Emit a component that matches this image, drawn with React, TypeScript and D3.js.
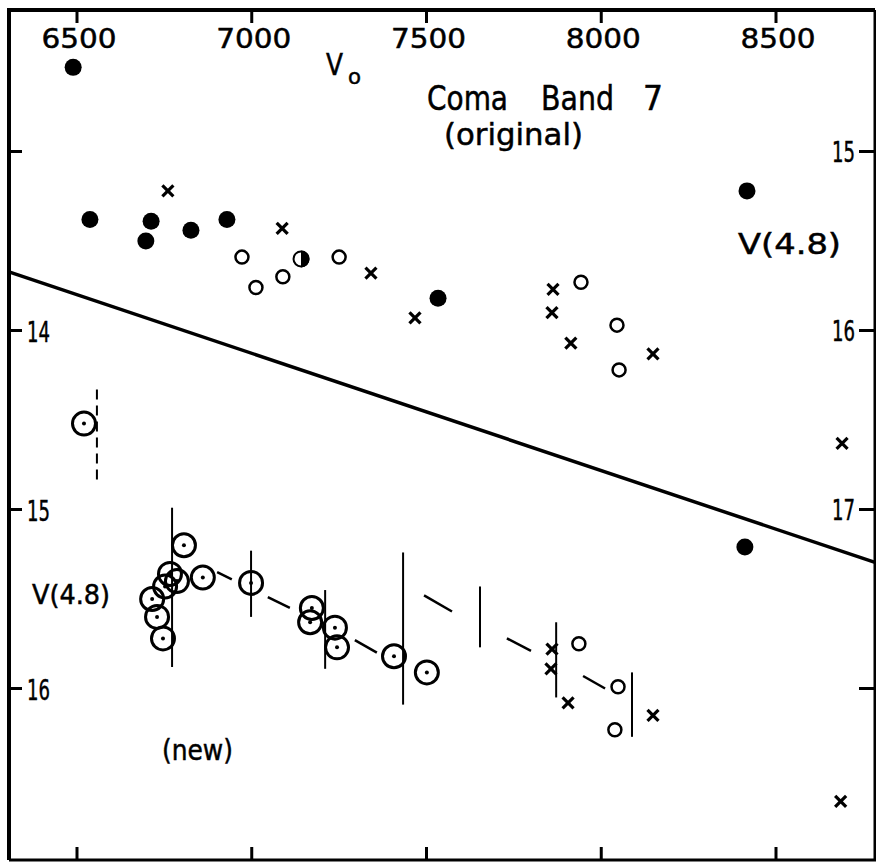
import React from "react";
import * as d3 from "d3";

// Velocity ticks (top and bottom) and magnitude ticks (left: new, right: original)
const velocityTicks = [6500, 7000, 7500, 8000, 8500];
const leftTicks = [13, 14, 15, 16];
const leftTickLabels = ["", "14", "15", "16"];
const rightTicks = [15, 16, 17, 18];
const rightTickLabels = ["15", "16", "17", ""];

// Original photometry, read on the right-hand V(4.8) scale: [V0, mag]
const originalFilled: [number, number][] = [
  [6489, 14.53], [6537, 15.38], [6712, 15.39], [6697, 15.5],
  [6826, 15.44], [6929, 15.38], [7533, 15.82], [8417, 15.22],
];
const originalHalf: [number, number][] = [[7141, 15.6]];
const originalOpen: [number, number][] = [
  [6972, 15.59], [7012, 15.76], [7089, 15.7], [7250, 15.59],
  [7942, 15.73], [8045, 15.97], [8051, 16.22],
];
const originalCross: [number, number][] = [
  [6760, 15.22], [7087, 15.43], [7341, 15.68], [7467, 15.93],
  [7862, 15.77], [7859, 15.9], [7913, 16.07], [8148, 16.13], [8689, 16.63],
];

// Regression of the original magnitudes on V0: [V0, mag] endpoints
const fitLine: [number, number][] = [[6500, 15.8], [8500, 17.11]];

// New photometry, read on the left-hand V(4.8) scale: [V0, mag]
const newCircled: [number, number][] = [
  [6806, 15.2], [6860, 15.38], [6998, 15.41], [6766, 15.36], [6786, 15.4],
  [6752, 15.43], [6715, 15.5], [6729, 15.6], [6746, 15.72], [7172, 15.55],
  [7167, 15.63], [7238, 15.66], [7244, 15.77], [7407, 15.82], [7501, 15.91],
];
const newCircledUncertain: [number, number][] = [[6520, 14.52]];
const newOpen: [number, number][] = [[7936, 15.75], [8048, 15.99], [8039, 16.23]];
const newCross: [number, number][] = [
  [7859, 15.78], [7856, 15.89], [7905, 16.08], [8148, 16.15], [8685, 16.63],
];
const newFilled: [number, number][] = [[8411, 15.21]];

// Ranges of the new measurements: [V0, faint, bright]
const errorBars: [number, number, number][] = [
  [6772, 15.88, 14.99], [6998, 15.6, 15.23], [7210, 15.89, 15.45],
  [7433, 16.09, 15.24], [7653, 15.77, 15.43], [7871, 16.05, 15.63],
  [8088, 16.27, 15.91],
];
const dashedBars: [number, number, number][] = [[6557, 14.86, 14.33]];

// Running-mean trace of the new magnitudes: [V0a, maga, V0b, magb]
const trendSegments: [number, number, number, number][] = [
  [6901, 15.35, 6943, 15.39], [7046, 15.49, 7109, 15.55],
  [7295, 15.73, 7358, 15.8], [7493, 15.48, 7573, 15.57],
  [7730, 15.72, 7799, 15.79], [7948, 15.93, 8011, 16.0],
];

const W = 876;
const H = 864;
const FONT = "DejaVu Sans, sans-serif";

export default function App() {
  const left = 9, right = 875, top = 10, bottom = 860;
  const x = d3.scaleLinear().domain([6500, 8500]).range([77, 776]);
  const yL = d3.scaleLinear().domain([13, 16]).range([151.5, 688.5]);
  const yR = d3.scaleLinear().domain([15, 18]).range([151.5, 688.5]);

  const fit = d3.scaleLinear().domain(fitLine.map((d) => d[0])).range(fitLine.map((d) => d[1]));
  const fitPath = d3.line<number>()
    .x((v) => x(v))
    .y((v) => yR(fit(v)))([x.invert(left), x.invert(right)]);

  const halfArc = d3.arc()({ innerRadius: 0, outerRadius: 8.5, startAngle: 0, endAngle: Math.PI }) as string;

  const cross = (cx: number, cy: number, key: string) => (
    <g key={key} stroke="#000" strokeWidth={3.2}>
      <line x1={cx - 5.5} y1={cy - 5.5} x2={cx + 5.5} y2={cy + 5.5} />
      <line x1={cx - 5.5} y1={cy + 5.5} x2={cx + 5.5} y2={cy - 5.5} />
    </g>
  );

  const circled = (cx: number, cy: number, key: string) => (
    <g key={key}>
      <circle cx={cx} cy={cy} r={11.5} fill="none" stroke="#000" strokeWidth={3} />
      <circle cx={cx} cy={cy} r={2} fill="#000" />
    </g>
  );

  const txt = (s: string, tx: number, ty: number, size: number, len: number, anchor = "start", key?: string) => (
    <text key={key ?? s + tx + ty} x={tx} y={ty} fontFamily={FONT} fontSize={size}
      textAnchor={anchor} textLength={len} lengthAdjust="spacingAndGlyphs"
      fill="#000" stroke="#000" strokeWidth={0.5}>{s}</text>
  );

  return (
    <svg width={W} height={H} style={{ position: "absolute", left: 0, top: 0, background: "#fff" }}>
      <rect x={0} y={0} width={W} height={H} fill="#fff" />
      {/* frame */}
      <path d={`M${left},${bottom} L${left},${top} L${right},${top}`} fill="none" stroke="#000" strokeWidth={4} />
      <path d={`M${left},${bottom} L${right},${bottom} L${right},${top}`} fill="none" stroke="#000" strokeWidth={3} />

      {/* velocity ticks */}
      {velocityTicks.map((v) => (
        <g key={"vt" + v} stroke="#000" strokeWidth={3}>
          <line x1={x(v)} x2={x(v)} y1={top} y2={top + 13} />
          <line x1={x(v)} x2={x(v)} y1={bottom} y2={bottom - 13} />
        </g>
      ))}
      {velocityTicks.map((v) => txt(String(v), x(v) + 2, 48, 27, 75, "middle", "vl" + v))}

      {/* magnitude ticks */}
      {leftTicks.map((m, i) => (
        <g key={"lt" + m}>
          <line x1={left} x2={left + 13} y1={yL(m)} y2={yL(m)} stroke="#000" strokeWidth={3} />
          {leftTickLabels[i] && txt(leftTickLabels[i], 27, yL(m) + 11, 28, 23, "start", "ll" + m)}
        </g>
      ))}
      {rightTicks.map((m, i) => (
        <g key={"rt" + m}>
          <line x1={right} x2={right - 16} y1={yR(m)} y2={yR(m)} stroke="#000" strokeWidth={3} />
          {rightTickLabels[i] && txt(rightTickLabels[i], 855, yR(m) + 10, 28, 23, "end", "rl" + m)}
        </g>
      ))}

      {/* regression line */}
      <path d={fitPath ?? ""} fill="none" stroke="#000" strokeWidth={3.5} />

      {/* original data */}
      {originalFilled.map(([v, m], i) => (
        <circle key={"of" + i} cx={x(v)} cy={yR(m)} r={8.5} fill="#000" />
      ))}
      {originalHalf.map(([v, m], i) => (
        <g key={"oh" + i} transform={`translate(${x(v)},${yR(m)})`}>
          <path d={halfArc} fill="#000" />
          <circle r={7.5} fill="none" stroke="#000" strokeWidth={2} />
        </g>
      ))}
      {originalOpen.map(([v, m], i) => (
        <circle key={"oo" + i} cx={x(v)} cy={yR(m)} r={6.5} fill="none" stroke="#000" strokeWidth={2.5} />
      ))}
      {originalCross.map(([v, m], i) => cross(x(v), yR(m), "oc" + i))}

      {/* new data: ranges and trend */}
      {errorBars.map(([v, lo, hi], i) => (
        <line key={"eb" + i} x1={x(v)} x2={x(v)} y1={yL(lo)} y2={yL(hi)} stroke="#000" strokeWidth={2} />
      ))}
      {dashedBars.map(([v, lo, hi], i) => (
        <line key={"db" + i} x1={x(v)} x2={x(v)} y1={yL(hi)} y2={yL(lo)} stroke="#000" strokeWidth={2} strokeDasharray="10,6" />
      ))}
      {trendSegments.map(([va, ma, vb, mb], i) => (
        <line key={"ts" + i} x1={x(va)} y1={yL(ma)} x2={x(vb)} y2={yL(mb)} stroke="#000" strokeWidth={2.5} />
      ))}
      {newCircled.map(([v, m], i) => circled(x(v), yL(m), "nc" + i))}
      {newCircledUncertain.map(([v, m], i) => circled(x(v), yL(m), "nu" + i))}
      {newOpen.map(([v, m], i) => (
        <circle key={"no" + i} cx={x(v)} cy={yL(m)} r={6.5} fill="none" stroke="#000" strokeWidth={2.5} />
      ))}
      {newCross.map(([v, m], i) => cross(x(v), yL(m), "nx" + i))}
      {newFilled.map(([v, m], i) => (
        <circle key={"nf" + i} cx={x(v)} cy={yL(m)} r={8.5} fill="#000" />
      ))}

      {/* labels */}
      {txt("V", 326, 75, 30, 17, "start", "v0")}
      {txt("o", 348, 84, 21, 13, "start", "v0s")}
      {txt("Coma", 427, 110, 33, 81, "start", "coma")}
      {txt("Band", 541, 110, 33, 73, "start", "band")}
      {txt("7", 643, 110, 33, 20, "start", "seven")}
      {txt("(original)", 444, 145, 31, 139, "start", "orig")}
      {txt("V(4.8)", 738, 254, 29, 103, "start", "vr")}
      {txt("V(4.8)", 32, 604, 27, 78, "start", "vl")}
      {txt("(new)", 162, 760, 28, 71, "start", "new")}
    </svg>
  );
}
